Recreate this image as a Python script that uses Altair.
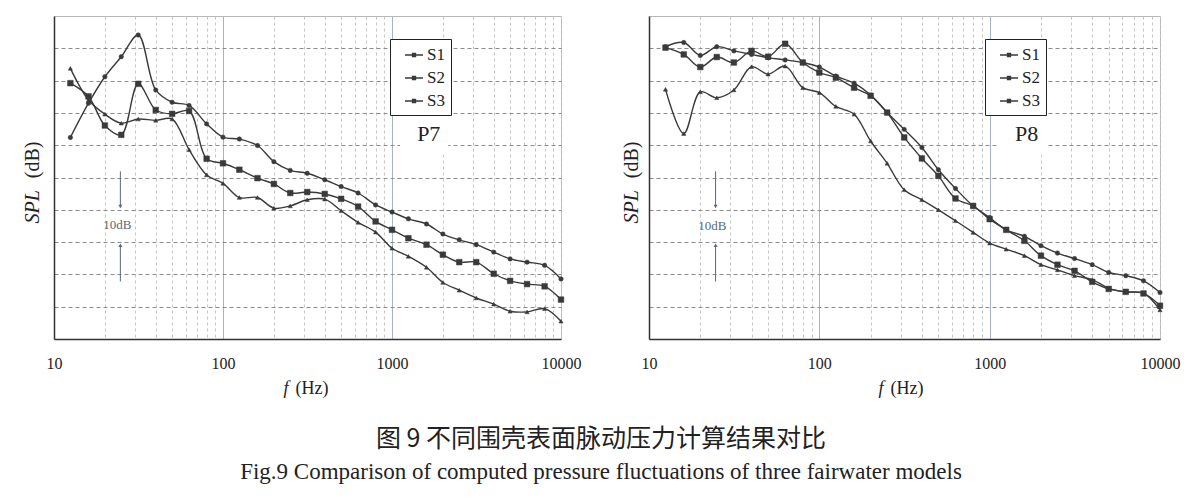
import altair as alt
import pandas as pd

# 1/3-octave band centre frequencies (Hz)
freqs = [12.5, 16, 20, 25, 31.5, 40, 50, 63, 80, 100, 125, 160, 200, 250, 315,
         400, 500, 630, 800, 1000, 1250, 1600, 2000, 2500, 3150, 4000, 5000,
         6300, 8000, 10000]
series_names = ["S1", "S2", "S3"]

# Panel P7 (SPL, dB, relative: bottom of frame = 0, 10 dB per grid division)
p7_s1 = [62.4, 73.0, 81.2, 87.4, 94.1, 77.1, 73.3, 72.3, 66.6, 62.5, 61.9, 59.9,
         54.9, 52.2, 51.3, 49.3, 47.2, 45.2, 41.5, 39.3, 37.2, 35.6, 32.5, 30.7,
         29.2, 26.9, 24.8, 23.8, 22.8, 18.6]
p7_s2 = [79.2, 75.1, 66.1, 63.2, 79.0, 70.9, 69.7, 70.6, 55.8, 54.4, 52.4, 49.8,
         48.0, 45.2, 45.5, 44.9, 43.4, 41.0, 36.4, 33.8, 31.2, 29.2, 26.1, 23.8,
         23.8, 20.2, 18.0, 17.0, 16.3, 12.2]
p7_s3 = [83.8, 74.0, 69.6, 66.8, 68.1, 67.7, 68.1, 58.6, 50.8, 48.2, 43.8, 43.8,
         40.5, 41.2, 43.1, 43.3, 39.7, 36.1, 33.1, 28.1, 25.6, 22.2, 17.5, 15.1,
         12.7, 10.8, 8.6, 8.4, 9.4, 5.5]

# Panel P8
p8_s1 = [90.5, 91.8, 87.8, 90.5, 89.2, 88.1, 87.1, 86.4, 85.6, 84.2, 81.4, 79.2,
         75.5, 70.1, 64.9, 59.3, 52.4, 46.6, 41.2, 37.6, 33.8, 31.8, 28.9, 26.6,
         24.9, 23.0, 20.6, 19.6, 18.0, 14.4]
p8_s2 = [90.2, 88.1, 84.2, 87.3, 85.6, 89.2, 87.4, 91.4, 85.6, 82.5, 80.9, 77.8,
         75.3, 70.1, 62.4, 55.9, 50.5, 43.5, 41.2, 37.1, 33.8, 30.4, 25.8, 23.0,
         21.1, 17.7, 15.5, 14.6, 14.1, 10.3]
p8_s3 = [77.3, 63.6, 76.5, 74.7, 77.1, 84.3, 82.0, 84.5, 77.8, 76.3, 72.0, 69.6,
         61.3, 54.4, 46.2, 43.1, 40.0, 36.6, 33.0, 29.7, 27.8, 25.8, 23.0, 21.4,
         19.6, 18.4, 15.7, 14.6, 14.2, 9.0]

panel_names = ["P7", "P8"]
panel_label_freq = [1650, 1650]
panel_label_spl = [63.5, 63.4]
label_gap_f = [1115, 2150]
label_gap_spl = [57.0, 69.0]

# "10dB" scale annotation
arrow_freq = [24.7, 24.6]
arrow_down = [51.9, 40.0]
arrow_up = [17.8, 30.0]
scale_text = "10dB"
scale_text_freq = [23.7, 23.5]
scale_text_spl = [35.4, 35.0]

x_grid_values = [10, 20, 30, 40, 50, 60, 70, 80, 90,
                 100, 200, 300, 400, 500, 600, 700, 800, 900,
                 1000, 2000, 3000, 4000, 5000, 6000, 7000, 8000, 9000, 10000]
y_grid_values = [10, 20, 30, 40, 50, 60, 70, 80, 90]

caption_cn = "图 9  不同围壳表面脉动压力计算结果对比"
caption_en = "Fig.9  Comparison of computed pressure fluctuations of three fairwater models"

SERIF = "Liberation Serif"
LINE_C = "#3a3a3a"
ANNO_C = "#5b6878"

marker_shapes = ["circle", "square", "triangle-up"]
marker_sizes = [20, 32, 18]
legend_path = "M-1,0H1M-0.17,-0.17H0.17V0.17H-0.17Z"


def panel(idx, s1, s2, s3, width, ytitle_x):
    df = pd.DataFrame({
        "f": freqs * 3,
        "spl": s1 + s2 + s3,
        "series": [series_names[0]] * len(freqs) + [series_names[1]] * len(freqs)
                  + [series_names[2]] * len(freqs),
    })
    xs = alt.Scale(type="log", domain=[10, 10000], nice=False)
    ys = alt.Scale(domain=[0, 100], nice=False, zero=False)

    major = "datum.value == 100 || datum.value == 1000"
    x_main = alt.Axis(
        orient="bottom", values=x_grid_values,
        labelExpr="(datum.value == 10 || datum.value == 100 || datum.value == 1000 || datum.value == 10000) ? format(datum.value, 'd') : ''",
        labelFlush=False, labelOverlap=False, labelPadding=16,
        labelFont=SERIF, labelFontSize=16, labelColor="#222",
        ticks=False, domainColor="#333", domainWidth=1.5,
        grid=True,
        gridColor={"condition": {"test": major, "value": "#a9b3c6"}, "value": "#c4c4c4"},
        gridDash={"condition": {"test": major, "value": []}, "value": [3, 3]},
        gridWidth=1,
        title="f", titleFontStyle="italic", titleAlign="right",
        titleX=234, titleY=49, titleBaseline="middle",
    )
    y_main = alt.Axis(
        orient="left", values=y_grid_values, labels=False, ticks=False,
        domainColor="#333", domainWidth=1.5,
        grid=True, gridColor="#8c8c8c", gridDash=[4, 3], gridWidth=1,
        title="SPL", titleFontStyle="italic", titleAngle=-90, titleAlign="left",
        titleX=ytitle_x, titleY=207, titleBaseline="middle", titleFontSize=20,
    )
    x_second = alt.Axis(
        orient="bottom", labels=False, ticks=False, grid=False, domain=False,
        title="(Hz)", titleAlign="left", titleX=241, titleY=49, titleBaseline="middle",
    )
    y_second = alt.Axis(
        orient="left", labels=False, ticks=False, grid=False, domain=False,
        title="(dB)", titleAngle=-90, titleAlign="right",
        titleX=ytitle_x, titleY=125, titleBaseline="middle", titleFontSize=20,
    )

    gap = alt.Chart(pd.DataFrame({"f0": [label_gap_f[0]], "f1": [label_gap_f[1]],
                                  "y0": [label_gap_spl[0]], "y1": [label_gap_spl[1]]})
                    ).mark_rect(color="white").encode(
        x=alt.X("f0:Q", scale=xs, axis=None), x2="f1:Q",
        y=alt.Y("y0:Q", scale=ys, axis=None), y2="y1:Q")

    lines = alt.Chart(df).mark_line(interpolate="catmull-rom", strokeWidth=1.4).encode(
        x=alt.X("f:Q", scale=xs, axis=x_main),
        y=alt.Y("spl:Q", scale=ys, axis=y_main),
        color=alt.Color("series:N",
                        scale=alt.Scale(domain=series_names, range=[LINE_C] * 3),
                        legend=alt.Legend(
                            title=None, orient="none", legendX=336, legendY=23,
                            fillColor="white", strokeColor="#222", padding=6,
                            symbolType=legend_path, symbolSize=324,
                            symbolStrokeWidth=1.3, symbolStrokeColor=LINE_C,
                            symbolFillColor=LINE_C, symbolOffset=8,
                            labelFont=SERIF, labelFontSize=17, labelColor="#222",
                            labelOffset=3, rowPadding=5)),
    )

    point_layers = []
    for k, s in enumerate(series_names):
        point_layers.append(
            alt.Chart(df).transform_filter(alt.datum.series == s).mark_point(
                filled=True, opacity=1, fill=LINE_C, stroke=LINE_C, strokeWidth=0.5,
                shape=marker_shapes[k], size=marker_sizes[k]).encode(
                x=alt.X("f:Q", scale=xs, axis=x_second if k == 0 else None),
                y=alt.Y("spl:Q", scale=ys, axis=y_second if k == 0 else None),
            )
        )

    plabel = alt.Chart(pd.DataFrame({"f": [panel_label_freq[idx]],
                                     "spl": [panel_label_spl[idx]],
                                     "t": [panel_names[idx]]})
                       ).mark_text(font=SERIF, fontSize=22, color="#222").encode(
        x=alt.X("f:Q", scale=xs, axis=None),
        y=alt.Y("spl:Q", scale=ys, axis=None), text="t:N")

    arrows = alt.Chart(pd.DataFrame({
        "f": [arrow_freq[idx], arrow_freq[idx]],
        "a": [arrow_down[0], arrow_up[0]],
        "b": [arrow_down[1] + 1.2, arrow_up[1] - 1.2]})
    ).mark_rule(color=ANNO_C, strokeWidth=1).encode(
        x=alt.X("f:Q", scale=xs, axis=None),
        y=alt.Y("a:Q", scale=ys, axis=None), y2="b:Q")

    head_down = alt.Chart(pd.DataFrame({"f": [arrow_freq[idx]], "spl": [arrow_down[1] + 1.0]})
                          ).mark_point(shape="triangle-down", filled=True, size=16,
                                       opacity=1, color=ANNO_C).encode(
        x=alt.X("f:Q", scale=xs, axis=None), y=alt.Y("spl:Q", scale=ys, axis=None))
    head_up = alt.Chart(pd.DataFrame({"f": [arrow_freq[idx]], "spl": [arrow_up[1] - 1.0]})
                        ).mark_point(shape="triangle-up", filled=True, size=16,
                                     opacity=1, color=ANNO_C).encode(
        x=alt.X("f:Q", scale=xs, axis=None), y=alt.Y("spl:Q", scale=ys, axis=None))

    stext = alt.Chart(pd.DataFrame({"f": [scale_text_freq[idx]],
                                    "spl": [scale_text_spl[idx]],
                                    "t": [scale_text]})
                      ).mark_text(font=SERIF, fontSize=13, color=ANNO_C).encode(
        x=alt.X("f:Q", scale=xs, axis=None),
        y=alt.Y("spl:Q", scale=ys, axis=None), text="t:N")

    return alt.layer(lines, *point_layers, gap, plabel, arrows, head_down, head_up, stext
                     ).resolve_axis(x="independent", y="independent"
                     ).properties(width=width, height=323)


left = panel(0, p7_s1, p7_s2, p7_s3, 507, -22)
right = panel(1, p8_s1, p8_s2, p8_s3, 511, -18)

chart = alt.hconcat(left, right, spacing=88, bounds="flush").resolve_scale(
    color="independent"
).resolve_legend(color="independent").properties(
    title=alt.TitleParams(
        text=caption_cn, subtitle=caption_en, orient="bottom", anchor="middle",
        font="Noto Sans CJK SC", fontSize=25, fontWeight="normal", color="#222",
        subtitleFont=SERIF, subtitleFontSize=23, subtitleColor="#222",
        subtitlePadding=9, offset=29),
    padding={"left": 13, "top": 7, "right": 5, "bottom": 5},
    background="white",
).configure_view(stroke="#b8b8b8", strokeWidth=1
).configure_axis(titleFont=SERIF, titleFontSize=18, titleFontWeight="normal",
                 titleColor="#222")

chart.save("out.html", embed_options={"renderer": "svg", "actions": False})
